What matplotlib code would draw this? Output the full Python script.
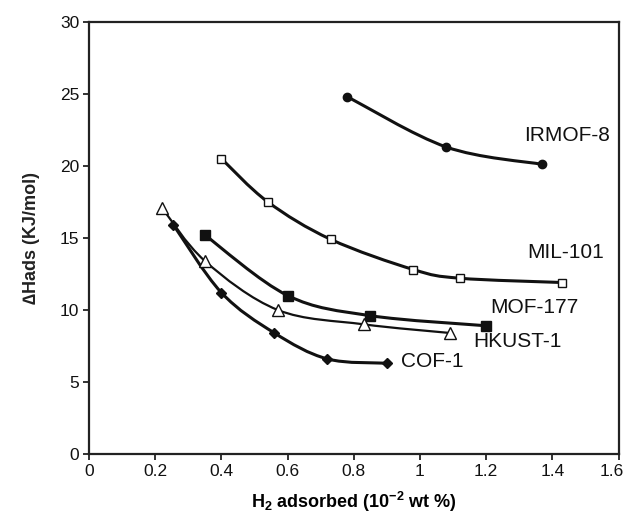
import matplotlib
matplotlib.use("Agg")
import matplotlib.pyplot as plt
import matplotlib.transforms as mtransforms
from matplotlib.path import Path
from matplotlib.patches import PathPatch
import numpy as np

plt.rcParams['font.family'] = ['Liberation Sans', 'DejaVu Sans']

# data
irmof8_x = [0.78, 1.08, 1.37]
irmof8_y = [24.8, 21.3, 20.1]
mil101_x = [0.40, 0.54, 0.73, 0.98, 1.12, 1.43]
mil101_y = [20.5, 17.5, 14.9, 12.8, 12.2, 11.9]
mof177_x = [0.35, 0.60, 0.85, 1.20]
mof177_y = [15.2, 11.0, 9.6, 8.9]
hkust1_x = [0.22, 0.35, 0.57, 0.83, 1.09]
hkust1_y = [17.1, 13.4, 10.0, 9.0, 8.4]
cof1_x = [0.255, 0.40, 0.56, 0.72, 0.90]
cof1_y = [15.9, 11.2, 8.4, 6.6, 6.3]

names = ['IRMOF-8', 'MIL-101', 'MOF-177', 'HKUST-1', 'COF-1']
label_x = [1.315, 1.325, 1.213, 1.16, 0.943]
label_y = [22.1, 14.0, 10.2, 7.8, 6.4]


def smooth_path(x, y):
    # excel style smoothed line: cubic bezier through the points
    x = np.asarray(x, float)
    y = np.asarray(y, float)
    n = len(x)
    verts = [(x[0], y[0])]
    codes = [Path.MOVETO]
    for i in range(n - 1):
        p0 = i - 1 if i > 0 else i
        p3 = i + 2 if i + 2 < n else i + 1
        c1 = (x[i] + (x[i + 1] - x[p0]) / 6, y[i] + (y[i + 1] - y[p0]) / 6)
        c2 = (x[i + 1] - (x[p3] - x[i]) / 6, y[i + 1] - (y[p3] - y[i]) / 6)
        verts += [c1, c2, (x[i + 1], y[i + 1])]
        codes += [Path.CURVE4] * 3
    return Path(verts, codes)


fig = plt.figure(figsize=(6.28, 5.23), dpi=100)
ax = fig.add_axes([0.1417, 0.1319, 0.8433, 0.8266])

series = [
    (irmof8_x, irmof8_y, 'o', '#111111', 6, 2.2),
    (mil101_x, mil101_y, 's', 'white', 6, 2.2),
    (mof177_x, mof177_y, 's', '#111111', 6.5, 2.2),
    (hkust1_x, hkust1_y, '^', 'white', 8, 1.6),
    (cof1_x, cof1_y, 'D', '#111111', 5.5, 2.2),
]

for xs, ys, mk, fc, ms, lw in series:
    ax.add_patch(PathPatch(smooth_path(xs, ys), facecolor='none',
                           edgecolor='#111111', lw=lw, zorder=2))
    ax.plot(xs, ys, linestyle='none', marker=mk, markersize=ms,
            markerfacecolor=fc, markeredgecolor='#111111',
            markeredgewidth=1.0, zorder=3)

for nm, lx, ly in zip(names, label_x, label_y):
    ax.text(lx, ly, nm, fontsize=15, va='center', ha='left', color='#111111')

ax.set_xlim(0, 1.6)
ax.set_ylim(0, 30)
ax.set_xticks(np.arange(0, 1.61, 0.2))
ax.set_xticklabels(['0', '0.2', '0.4', '0.6', '0.8', '1', '1.2', '1.4', '1.6'])
ax.set_yticks(range(0, 31, 5))
ax.tick_params(direction='out', length=4, width=1.3, labelsize=12.5,
               colors='#222222', pad=3)
ax.tick_params(axis='both', labelcolor='#111111')
for s in ax.spines.values():
    s.set_linewidth(1.6)
    s.set_color('#222222')

# keep the last x label inside the figure
last = ax.get_xticklabels()[-1]
last.set_transform(last.get_transform() +
                   mtransforms.ScaledTranslation(-5 / 72, 0, fig.dpi_scale_trans))

ax.set_xlabel(r'H$_\mathregular{2}$ adsorbed (10$^\mathregular{-2}$ wt %)',
              fontsize=13, fontweight='bold', labelpad=8)
ax.set_ylabel('\u2206Hads (KJ/mol)', fontsize=13, fontweight='bold',
              labelpad=14, color='#222222')

fig.savefig('out.png', dpi=100)
